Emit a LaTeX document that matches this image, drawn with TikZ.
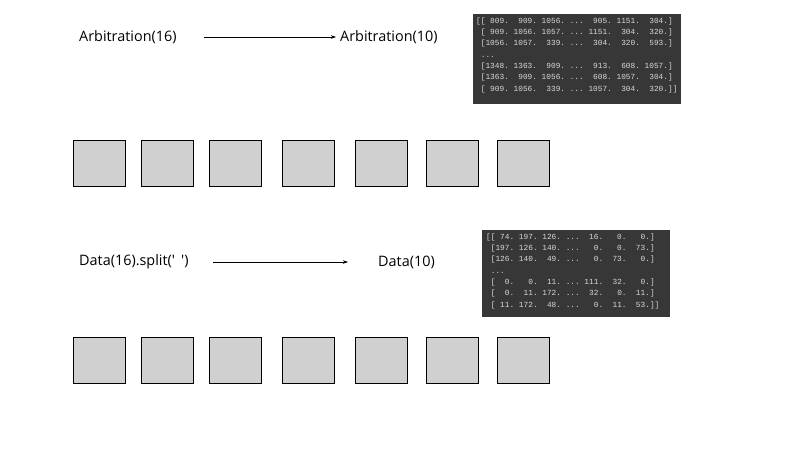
\documentclass[tikz,border=0pt]{standalone}
\usepackage{fontspec}
\setmainfont{Open Sans}
\newfontfamily\codefont{Liberation Mono}
\usetikzlibrary{arrows.meta}
\definecolor{cellgray}{HTML}{D0D0D0}
\definecolor{termbg}{HTML}{373737}
\definecolor{termfg}{HTML}{D8D8D8}
\tikzset{
  cell/.style={draw=black, line width=0.9pt, fill=cellgray, minimum width=52pt, minimum height=46pt, inner sep=0pt, anchor=north west},
  label/.style={font=\fontsize{14.4}{16}\selectfont, inner sep=0pt, anchor=west},
  term/.style={fill=termbg, draw=none, inner sep=0pt, anchor=north west},
  termtext/.style={font=\codefont\fontsize{7.8}{11.3}\selectfont, text=termfg, align=left, inner sep=0pt, anchor=north west},
  conn/.style={-{Stealth[length=5pt,width=3.5pt]}, line width=0.7pt}
}
\begin{document}
\begin{tikzpicture}[x=1pt,y=-1pt]
\useasboundingbox (0,0) rectangle (800,450);
% top labels
\node[label] (a16) at (79,37) {Arbitration(16)};
\node[label] (a10) at (340,37) {Arbitration(10)};
\draw[conn, shorten <=27pt, shorten >=4pt] (a16.east) -- (a10.west);
% terminal 1
\node[term, minimum width=208pt, minimum height=90pt] (t1) at (473,14) {};
\node[termtext] (t1txt) at (476,17.5) {[[~809.~~909.~1056.~...~~905.~1151.~~304.]\\
~[~909.~1056.~1057.~...~1151.~~304.~~320.]\\
~[1056.~1057.~~339.~...~~304.~~320.~~593.]\\
~...\\
~[1348.~1363.~~909.~...~~913.~~608.~1057.]\\
~[1363.~~909.~1056.~...~~608.~1057.~~304.]\\
~[~909.~1056.~~339.~...~1057.~~304.~~320.]]};
% top row cells
\node[cell] (c1) at (73,140) {};
\node[cell] (c2) at (141,140) {};
\node[cell] (c3) at (209,140) {};
\node[cell] (c4) at (282,140) {};
\node[cell] (c5) at (355,140) {};
\node[cell] (c6) at (426,140) {};
\node[cell] (c7) at (497,140) {};
% bottom labels
\node[label] (d16) at (79,262) {Data(16).split(\textquotesingle\hspace{6pt}\textquotesingle)};
\node[label] (d10) at (378,262) {Data(10)};
\draw[conn, shorten <=24pt, shorten >=30pt] (d16.east) -- (d10.west);
% terminal 2
\node[term, minimum width=188pt, minimum height=87pt] (t2) at (482,230) {};
\node[termtext] (t2txt) at (486,233.5) {[[~74.~197.~126.~...~~16.~~~0.~~~0.]\\
~[197.~126.~140.~...~~~0.~~~0.~~73.]\\
~[126.~140.~~49.~...~~~0.~~73.~~~0.]\\
~...\\
~[~~0.~~~0.~~11.~...~111.~~32.~~~0.]\\
~[~~0.~~11.~172.~...~~32.~~~0.~~11.]\\
~[~11.~172.~~48.~...~~~0.~~11.~~53.]]};
% bottom row cells
\node[cell] (e1) at (73,337) {};
\node[cell] (e2) at (141,337) {};
\node[cell] (e3) at (209,337) {};
\node[cell] (e4) at (282,337) {};
\node[cell] (e5) at (355,337) {};
\node[cell] (e6) at (426,337) {};
\node[cell] (e7) at (497,337) {};
\end{tikzpicture}
\end{document}
